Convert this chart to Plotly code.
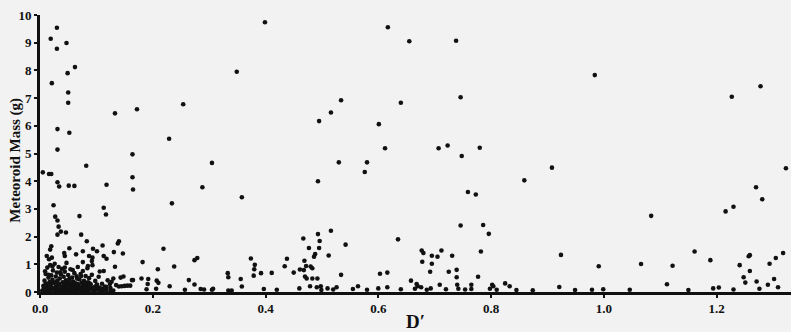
import plotly.graph_objects as go

# D' criterion vs. meteoroid mass (g), one entry per meteoroid
d_prime = [
    # sparse upper field
    0.399, 0.617, 0.655, 0.738, 0.349, 0.746, 0.254, 0.534, 0.516, 0.640, 0.495, 0.601,
    0.229, 0.612, 0.707, 0.723, 0.780, 0.748, 0.305, 0.530, 0.580, 0.576, 0.493, 0.288,
    0.358, 0.234, 0.759, 0.773, 0.746, 0.786, 0.796, 0.493, 0.516,
    0.984, 1.278, 1.227, 0.908, 0.859, 1.323, 1.270, 1.281, 1.084, 1.216, 1.230,
    # right-hand low group
    0.924, 0.991, 1.066, 1.122, 1.161, 1.189, 1.112, 0.921, 1.241, 1.257, 1.259, 1.259,
    1.248, 1.251, 1.271, 1.294, 1.305, 1.318, 1.302, 1.291, 1.309, 1.194, 1.204,
    # middle low group
    0.467, 0.496, 0.477, 0.495, 0.488, 0.486, 0.512, 0.542, 0.469, 0.438, 0.434, 0.450,
    0.461, 0.472, 0.480, 0.483, 0.468, 0.470, 0.473, 0.483, 0.492, 0.479, 0.491, 0.498,
    0.534, 0.374, 0.381, 0.380, 0.379, 0.392, 0.411, 0.635, 0.603, 0.616, 0.616, 0.600,
    0.564, 0.555, 0.526, 0.510, 0.460, 0.397, 0.677, 0.680, 0.678, 0.695, 0.695, 0.692,
    0.705, 0.712, 0.731, 0.725, 0.739, 0.739, 0.740, 0.658, 0.668, 0.670, 0.676, 0.693,
    0.709, 0.765, 0.777, 0.782, 0.802, 0.804, 0.825, 0.833,
    0.219, 0.182, 0.209, 0.238, 0.274, 0.279, 0.333, 0.334, 0.356, 0.358, 0.264, 0.274,
    0.230, 0.207, 0.210, 0.191, 0.180, 0.192, 0.257, 0.285, 0.305, 0.334, 0.340,
    # left column
    0.133, 0.172, 0.082, 0.118, 0.113, 0.117, 0.164, 0.164, 0.165,
    0.030, 0.019, 0.030, 0.047, 0.021, 0.049, 0.062, 0.050, 0.050, 0.031, 0.052, 0.031,
    0.016, 0.020, 0.005, 0.031, 0.034, 0.051, 0.061,
    0.024, 0.070, 0.027, 0.031, 0.033, 0.037, 0.031, 0.046, 0.073, 0.083, 0.020, 0.018,
    0.052, 0.076, 0.087, 0.043, 0.044, 0.064, 0.012, 0.016, 0.021, 0.076, 0.085, 0.093,
    0.140, 0.138, 0.111, 0.094, 0.101, 0.131, 0.147, 0.113, 0.118, 0.092, 0.093, 0.133,
    0.106, 0.113, 0.148, 0.143, 0.130, 0.127, 0.124, 0.163, 0.165, 0.140, 0.145, 0.150,
    0.155, 0.160,
    # points lying along the axis
    0.189, 0.206, 0.291, 0.307, 0.420, 0.499, 0.520, 0.580, 0.640, 0.665, 0.686, 0.720,
    0.742, 0.754, 0.765, 0.798, 0.810, 0.845, 0.874, 0.949, 0.979, 0.999, 1.046, 1.150,
    1.230, 1.276,
    # dense cluster near the origin
    0.004, 0.006, 0.008, 0.009, 0.010, 0.011, 0.012, 0.013, 0.014, 0.015, 0.016, 0.017,
    0.018, 0.019, 0.020, 0.021, 0.022, 0.023, 0.024, 0.025, 0.026, 0.027, 0.028, 0.029,
    0.030, 0.031, 0.032, 0.033, 0.034, 0.035, 0.036, 0.037, 0.038, 0.039, 0.040, 0.041,
    0.042, 0.043, 0.044, 0.045, 0.046, 0.047, 0.048, 0.049, 0.050, 0.051, 0.052, 0.053,
    0.054, 0.055, 0.056, 0.057, 0.058, 0.059, 0.060, 0.061, 0.062, 0.063, 0.064, 0.065,
    0.066, 0.067, 0.068, 0.069, 0.070, 0.071, 0.072, 0.073, 0.074, 0.075, 0.076, 0.077,
    0.078, 0.079, 0.080, 0.081, 0.082, 0.083, 0.084, 0.085, 0.086, 0.087, 0.088, 0.089,
    0.090, 0.092, 0.094, 0.096, 0.098, 0.100, 0.102, 0.104, 0.106, 0.108, 0.110, 0.112,
    0.115, 0.118, 0.120, 0.125, 0.130, 0.135,
    0.005, 0.012, 0.019, 0.027, 0.034, 0.041, 0.048, 0.055, 0.062, 0.069, 0.076, 0.083,
    0.090, 0.097, 0.104, 0.111, 0.118, 0.125,
    0.007, 0.010, 0.014, 0.017, 0.021, 0.024, 0.028, 0.032, 0.035, 0.039, 0.043, 0.046,
    0.050, 0.053, 0.057, 0.060, 0.064, 0.067, 0.071, 0.074, 0.078, 0.081, 0.085, 0.088,
    0.093, 0.097, 0.101, 0.107, 0.114, 0.009, 0.015, 0.022, 0.029, 0.036, 0.044, 0.051,
    0.058, 0.066, 0.073, 0.080,
]

mass_g = [
    9.74, 9.56, 9.05, 9.07, 7.95, 7.03, 6.78, 6.92, 6.48, 6.83, 6.17, 6.06,
    5.53, 5.19, 5.19, 5.29, 5.21, 4.91, 4.66, 4.68, 4.68, 4.33, 4.00, 3.78,
    3.42, 3.20, 3.61, 3.52, 2.40, 2.42, 2.10, 2.09, 2.21,
    7.83, 7.43, 7.05, 4.49, 4.03, 4.47, 3.78, 3.35, 2.75, 2.91, 3.08,
    1.34, 0.93, 1.01, 0.95, 1.46, 1.15, 0.28, 0.18, 0.97, 1.29, 1.33, 0.76,
    0.53, 0.34, 0.38, 1.02, 1.23, 1.41, 0.47, 0.26, 0.17, 0.13, 0.16,
    1.93, 1.84, 1.59, 1.59, 1.37, 1.27, 1.32, 1.71, 1.13, 1.20, 0.93, 0.70,
    0.81, 0.94, 0.92, 0.86, 0.79, 0.56, 0.49, 0.49, 0.49, 0.21, 0.17, 0.21,
    0.62, 1.21, 0.98, 0.82, 0.59, 0.68, 0.69, 1.90, 0.66, 0.70, 0.17, 0.13,
    0.21, 0.11, 0.17, 0.13, 0.13, 0.11, 1.50, 1.41, 1.09, 1.31, 1.02, 0.73,
    1.27, 1.50, 1.31, 0.73, 0.80, 0.53, 0.26, 0.41, 0.29, 0.21, 0.17, 0.13,
    0.26, 0.26, 0.55, 1.46, 0.26, 0.21, 0.31, 0.21,
    1.56, 1.08, 0.82, 0.92, 1.15, 1.23, 0.68, 0.53, 0.47, 0.20, 0.43, 0.27,
    0.21, 0.41, 0.33, 0.29, 0.49, 0.47, 0.08, 0.11, 0.08, 0.05, 0.05,
    6.45, 6.60, 4.56, 3.87, 3.04, 2.80, 4.97, 4.14, 3.70,
    9.54, 9.14, 8.78, 8.99, 7.54, 7.90, 8.12, 7.20, 6.83, 5.88, 5.75, 5.14,
    4.26, 4.26, 4.32, 3.96, 3.81, 3.84, 3.83,
    3.13, 2.74, 2.72, 2.58, 2.36, 2.18, 2.07, 2.15, 2.07, 1.83, 1.65, 1.53,
    1.58, 1.47, 1.30, 1.41, 1.30, 1.36, 1.30, 1.18, 1.24, 1.08, 0.94, 1.24,
    1.83, 1.75, 1.68, 1.56, 1.47, 1.44, 1.39, 1.30, 1.20, 1.12, 0.97, 0.91,
    0.74, 0.76, 0.56, 0.52, 0.49, 0.37, 0.29, 0.43, 0.43, 0.20, 0.21, 0.22,
    0.23, 0.23,
    0.10, 0.12, 0.09, 0.12, 0.08, 0.07, 0.09, 0.08, 0.10, 0.12, 0.08, 0.10,
    0.12, 0.09, 0.11, 0.12, 0.08, 0.07, 0.06, 0.07, 0.08, 0.10, 0.08, 0.07,
    0.09, 0.12,
    0.05, 0.22, 0.41, 0.12, 0.65, 0.03, 0.30, 0.88, 0.18, 0.52, 0.07, 0.36,
    0.97, 0.25, 0.60, 0.10, 0.44, 0.78, 0.15, 0.33, 1.02, 0.05, 0.56, 0.21,
    0.70, 0.40, 0.12, 0.90, 0.28, 0.49, 0.08, 0.63, 0.19, 0.84, 0.35, 0.04,
    0.55, 0.24, 0.73, 0.13, 0.42, 1.05, 0.30, 0.09, 0.61, 0.20, 0.47, 0.03,
    0.82, 0.27, 0.15, 0.52, 0.06, 0.38, 0.22, 0.68, 0.11, 0.31, 0.04, 0.57,
    0.18, 0.90, 0.26, 0.08, 0.45, 0.14, 0.65, 0.05, 0.33, 0.21, 0.76, 0.10,
    0.40, 0.17, 0.03, 0.58, 0.24, 0.12, 0.86, 0.35, 0.06, 0.50, 0.19, 0.09,
    0.28, 0.62, 0.14, 0.04, 0.40, 0.22, 0.10, 0.55, 0.16, 0.05, 0.30, 0.12,
    0.20, 0.07, 0.42, 0.14, 0.05, 0.25,
    0.02, 0.08, 0.04, 0.14, 0.02, 0.16, 0.05, 0.09, 0.02, 0.13, 0.03, 0.07,
    0.15, 0.02, 0.08, 0.03, 0.18, 0.02,
    0.14, 0.28, 0.06, 0.20, 0.33, 0.09, 0.17, 0.26, 0.05, 0.15, 0.32, 0.07,
    0.24, 0.13, 0.35, 0.04, 0.19, 0.29, 0.11, 0.02, 0.23, 0.14, 0.04, 0.31,
    0.08, 0.18, 0.27, 0.03, 0.10, 0.75, 0.62, 0.93, 0.38, 0.71, 0.88, 0.34,
    0.79, 0.48, 0.58, 0.30,
]

x_ticks = [0.0, 0.2, 0.4, 0.6, 0.8, 1.0, 1.2]
y_ticks = [0, 1, 2, 3, 4, 5, 6, 7, 8, 9, 10]

serif = "Liberation Serif, Times New Roman, serif"
bg = "#f2f2f2"

fig = go.Figure(
    go.Scatter(
        x=d_prime,
        y=mass_g,
        mode="markers",
        marker=dict(size=4.6, color="#111111", line=dict(width=0)),
        cliponaxis=False,
        hoverinfo="skip",
    )
)

fig.update_layout(
    width=791,
    height=332,
    margin=dict(l=40, r=0, t=15, b=36),
    paper_bgcolor=bg,
    plot_bgcolor=bg,
    showlegend=False,
    font=dict(family=serif, color="#111111"),
)

fig.update_xaxes(
    range=[0, 1.332],
    tickvals=x_ticks,
    ticktext=[f"{v:.1f}" for v in x_ticks],
    ticks="outside",
    ticklen=3,
    tickwidth=1.5,
    tickcolor="#111111",
    showline=True,
    linewidth=2.6,
    linecolor="#111111",
    showgrid=False,
    zeroline=False,
    tickfont=dict(family=serif, size=13, weight="bold"),
    title=dict(text="D′", font=dict(family=serif, size=19, weight="bold"), standoff=2),
)

fig.update_yaxes(
    range=[0, 10],
    tickvals=y_ticks,
    ticks="outside",
    ticklen=3,
    tickwidth=1.5,
    tickcolor="#111111",
    showline=True,
    linewidth=2.6,
    linecolor="#111111",
    showgrid=False,
    zeroline=False,
    tickfont=dict(family=serif, size=13, weight="bold"),
)

# vertical axis title, set a little below the plot-area centre
fig.add_annotation(
    text="Meteoroid Mass (g)",
    textangle=-90,
    xref="paper", yref="paper",
    x=-0.033, y=0.475,
    xanchor="center", yanchor="middle",
    showarrow=False,
    font=dict(family=serif, size=15, weight="bold", color="#111111"),
)

fig.write_html("out.html")
